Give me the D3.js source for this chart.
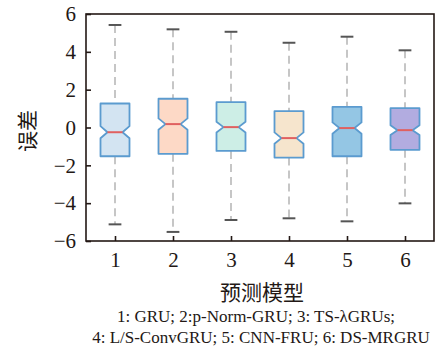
<!DOCTYPE html>
<html>
<head>
<meta charset="utf-8">
<script src="https://cdn.jsdelivr.net/npm/d3@7"></script>
<style>
  html, body { margin: 0; padding: 0; background: #fff; }
  svg { display: block; }
</style>
</head>
<body>
<div id="chart"></div>
<script>
// Error distribution of six forecasting models (notched box plots)
const models      = [1, 2, 3, 4, 5, 6];
const whiskerHigh = [5.42, 5.19, 5.06, 4.48, 4.80, 4.08];
const q3          = [1.27, 1.52, 1.34, 0.87, 1.09, 1.02];
const medians     = [-0.25, 0.18, 0.02, -0.56, -0.03, -0.14];
const q1          = [-1.52, -1.39, -1.24, -1.59, -1.52, -1.18];
const whiskerLow  = [-5.12, -5.52, -4.89, -4.80, -4.96, -4.01];
const notchHalf   = [0.32, 0.30, 0.28, 0.30, 0.30, 0.26];
const fills       = ["#d3e4f2", "#fdd9c6", "#cdeee6", "#f6e5cd", "#94c6e4", "#b2ace0"];
const yTicks      = [-6, -4, -2, 0, 2, 4, 6];
const captionLines = [
  "1: GRU; 2:p-Norm-GRU; 3: TS-\u03bbGRUs;",
  "4: L/S-ConvGRU; 5: CNN-FRU; 6: DS-MRGRU"
];

const W = 436, H = 354;
const margin = { left: 86, right: 2, top: 14, bottom: 113 };
const svg = d3.select("#chart").append("svg").attr("width", W).attr("height", H);

const x = d3.scaleLinear().domain([0.5, 6.5]).range([margin.left, W - margin.right]);
const y = d3.scaleLinear().domain([-6, 6]).range([H - margin.bottom, margin.top]);

const serif = "'Liberation Serif', 'Times New Roman', serif";
const cjk = "'Noto Sans CJK SC', sans-serif";

const data = models.map((m, i) => ({
  m, hi: whiskerHigh[i], q3: q3[i], med: medians[i], q1: q1[i], lo: whiskerLow[i],
  nh: notchHalf[i], fill: fills[i]
}));

const boxHalf = 0.25;   // half box width in model units
const notchIn = 0.12;   // notch indentation in model units
const capHalf = 0.11;

const g = svg.append("g");

// whiskers
g.selectAll(".wh").data(data).join("line")
  .attr("x1", d => x(d.m)).attr("x2", d => x(d.m))
  .attr("y1", d => y(d.hi)).attr("y2", d => y(d.q3))
  .attr("stroke", "#a8a8a8").attr("stroke-width", 1.3).attr("stroke-dasharray", "8,5");
g.selectAll(".wl").data(data).join("line")
  .attr("x1", d => x(d.m)).attr("x2", d => x(d.m))
  .attr("y1", d => y(d.q1)).attr("y2", d => y(d.lo))
  .attr("stroke", "#a8a8a8").attr("stroke-width", 1.3).attr("stroke-dasharray", "8,5");

// caps
["hi", "lo"].forEach(k => {
  g.selectAll(".cap-" + k).data(data).join("line")
    .attr("x1", d => x(d.m - capHalf)).attr("x2", d => x(d.m + capHalf))
    .attr("y1", d => y(d[k])).attr("y2", d => y(d[k]))
    .attr("stroke", "#555").attr("stroke-width", 2);
});

// notched boxes
const boxPath = d => {
  const l = d.m - boxHalf, r = d.m + boxHalf;
  const pts = [
    [l, d.q3], [r, d.q3], [r, d.med + d.nh], [r - notchIn, d.med], [r, d.med - d.nh],
    [r, d.q1], [l, d.q1], [l, d.med - d.nh], [l + notchIn, d.med], [l, d.med + d.nh]
  ];
  return "M" + pts.map(p => x(p[0]) + "," + y(p[1])).join("L") + "Z";
};
g.selectAll(".box").data(data).join("path")
  .attr("d", boxPath)
  .attr("fill", d => d.fill)
  .attr("stroke", "#5b9bcf").attr("stroke-width", 1.8).attr("stroke-linejoin", "round");

// medians
g.selectAll(".med").data(data).join("line")
  .attr("x1", d => x(d.m - boxHalf + notchIn)).attr("x2", d => x(d.m + boxHalf - notchIn))
  .attr("y1", d => y(d.med)).attr("y2", d => y(d.med))
  .attr("stroke", "#e06060").attr("stroke-width", 2);

// axes with inward ticks
const yAxis = svg.append("g").attr("transform", `translate(${margin.left},0)`)
  .call(d3.axisLeft(y).tickValues(yTicks).tickSizeInner(-5).tickSizeOuter(0).tickPadding(10)
    .tickFormat(d => d < 0 ? "\u2212" + Math.abs(d) : String(d)));
const xAxis = svg.append("g").attr("transform", `translate(0,${H - margin.bottom})`)
  .call(d3.axisBottom(x).tickValues(models).tickSizeInner(-5).tickSizeOuter(0).tickPadding(11)
    .tickFormat(d3.format("d")));
[yAxis, xAxis].forEach(a => {
  a.select(".domain").remove();
  a.selectAll(".tick line").attr("stroke", "#231815").attr("stroke-width", 1.6);
  a.selectAll(".tick text").attr("font-family", serif).attr("font-size", 21).attr("fill", "#231815");
});

// frame
svg.append("rect")
  .attr("x", margin.left).attr("y", margin.top)
  .attr("width", W - margin.right - margin.left).attr("height", H - margin.bottom - margin.top)
  .attr("fill", "none").attr("stroke", "#231815").attr("stroke-width", 1.6);

// axis titles
svg.append("text")
  .attr("transform", "translate(35,131) rotate(-90)")
  .attr("text-anchor", "middle")
  .attr("font-family", cjk).attr("font-size", 21).attr("fill", "#231815")
  .text("误差");
svg.append("text")
  .attr("x", 262).attr("y", 300)
  .attr("text-anchor", "middle")
  .attr("font-family", cjk).attr("font-size", 21).attr("fill", "#231815")
  .text("预测模型");

// model legend
svg.selectAll(".cap-line").data(captionLines).join("text")
  .attr("x", (d, i) => i === 0 ? 256 : 261)
  .attr("y", (d, i) => 322 + i * 21)
  .attr("text-anchor", "middle")
  .attr("font-family", serif).attr("font-size", 17).attr("fill", "#231815")
  .text(d => d);
</script>
</body>
</html>
